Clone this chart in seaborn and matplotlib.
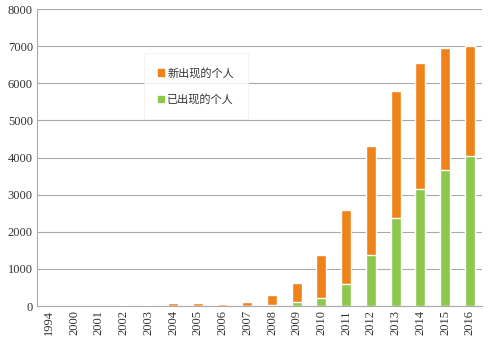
import matplotlib
matplotlib.use("Agg")
import matplotlib.pyplot as plt
import seaborn as sns
import pandas as pd
from matplotlib.patches import Patch

years = ['1994', '2000', '2001', '2002', '2003', '2004', '2005', '2006', '2007',
         '2008', '2009', '2010', '2011', '2012', '2013', '2014', '2015', '2016']
existing = [0, 0, 0, 5, 3, 10, 10, 8, 15, 30, 115, 205, 585, 1375, 2380, 3145, 3665, 4045]
new = [2, 3, 4, 25, 17, 80, 60, 47, 100, 265, 500, 1170, 2000, 2945, 3420, 3410, 3280, 2960]

df = pd.DataFrame({'year': years, 'existing': existing, 'new': new})
df['total'] = df['existing'] + df['new']

sns.set_style('white')
plt.rcParams['font.family'] = ['Liberation Serif', 'Noto Sans CJK SC']

orange = '#f0821a'
green = '#8cc84b'

fig = plt.figure(figsize=(4.9, 3.51), dpi=100)
ax = fig.add_axes([0.0755, 0.128, 0.9085, 0.846])

sns.barplot(data=df, x='year', y='total', color=orange, saturation=1, width=0.4, ax=ax)
sns.barplot(data=df, x='year', y='existing', color=green, saturation=1, width=0.4, ax=ax)

ax.set_ylim(0, 8000)
ax.set_xlim(-0.5, len(years) - 0.5)
ax.set_yticks(range(0, 8001, 1000))
ax.yaxis.grid(True, color='#aaaaaa', linewidth=0.8)
ax.set_axisbelow(True)
ax.set_xlabel('')
ax.set_ylabel('')
for s in ['top', 'right']:
    ax.spines[s].set_visible(False)
ax.spines['left'].set_color('#aaaaaa')
ax.spines['bottom'].set_color('#aaaaaa')
ax.tick_params(axis='x', labelrotation=90, labelsize=9, pad=3, length=0)
ax.tick_params(axis='y', labelsize=9, pad=3, length=0)
for t in ax.get_xticklabels() + ax.get_yticklabels():
    t.set_color('#333333')

handles = [Patch(color=orange, label='新出现的个人'), Patch(color=green, label='已出现的个人')]
leg = ax.legend(handles=handles, loc='upper left', bbox_to_anchor=(0.235, 0.86),
                frameon=True, handlelength=0.5, handleheight=0.5, handletextpad=0.3,
                labelspacing=1.4, borderpad=1.0,
                prop={'family': ['Noto Sans CJK SC'], 'size': 8})
leg.get_frame().set_edgecolor('#eeeeee')
leg.get_frame().set_linewidth(0.6)
leg.get_frame().set_boxstyle('square')
for t in leg.get_texts():
    t.set_color('#333333')

fig.savefig('out.png', dpi=100)
